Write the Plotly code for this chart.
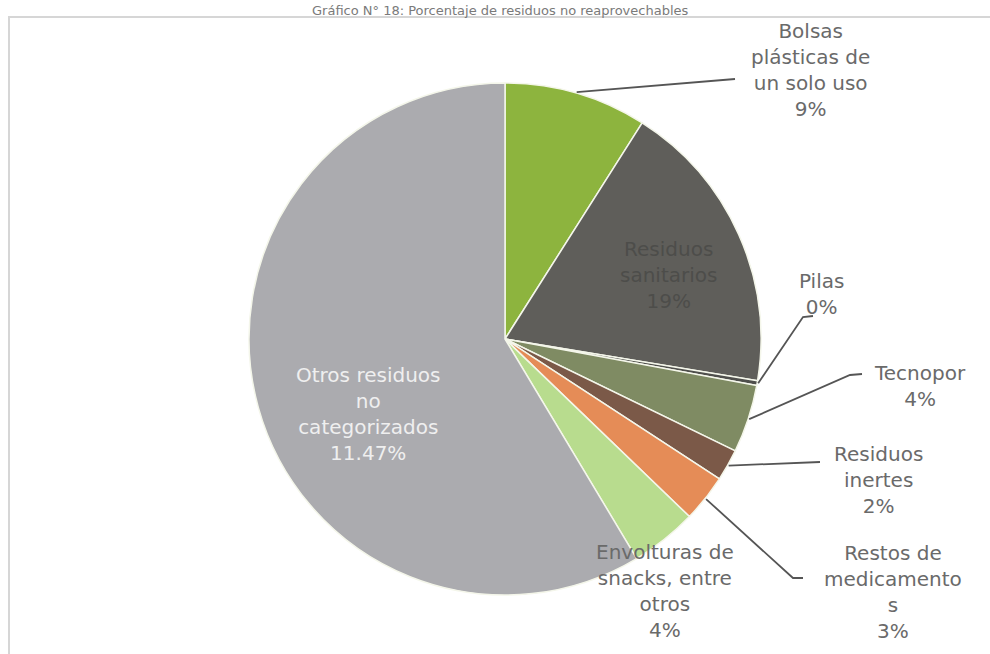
import math
import plotly.graph_objects as go

# ---- data ----
categories = [
    "Bolsas plásticas de un solo uso",
    "Residuos sanitarios",
    "Pilas",
    "Tecnopor",
    "Residuos inertes",
    "Restos de medicamentos",
    "Envolturas de snacks, entre otros",
    "Otros residuos no categorizados",
]
values = [9.0, 18.6, 0.3, 4.3, 2.0, 3.0, 4.2, 58.6]
label_texts = [
    "Bolsas<br>plásticas de<br>un solo uso<br>9%",
    "Residuos<br>sanitarios<br>19%",
    "Pilas<br>0%",
    "Tecnopor<br>4%",
    "Residuos<br>inertes<br>2%",
    "Restos de<br>medicamento<br>s<br>3%",
    "Envolturas de<br>snacks, entre<br>otros<br>4%",
    "Otros residuos<br>no<br>categorizados<br>11.47%",
]
colors = ["#8db43e", "#5f5e5a", "#4f4f4c", "#7f8b63", "#7b5948",
          "#e58c57", "#b8dc8e", "#ababaf"]
title = "Gráfico N° 18: Porcentaje de residuos no reaprovechables"

# ---- layout (pixels) ----
W, H = 990, 654
CX, CY, R = 505, 339, 256

def X(p):
    return p / W

def Y(p):
    return 1 - p / H

# label centre positions (pixel) and leader line waypoints (pixel)
label_pos = [(810, 70), (668, 275), (821, 294), (920, 386), (878, 480),
             (893, 592), (665, 591), (368, 414)]
label_colors = ["#6a6a6a", "#4d4d4a", "#6a6a6a", "#6a6a6a", "#6a6a6a",
                "#6a6a6a", "#6a6a6a", "#efefef"]
leader_pts = [
    [(735, 79)],
    None,
    [(803, 317), (813, 316)],
    [(850, 375), (862, 374)],
    [(820, 462)],
    [(793, 578), (803, 578)],
    None,
    None,
]

FONT = "DejaVu Sans"

fig = go.Figure(go.Pie(
    labels=categories,
    values=values,
    sort=False,
    direction="clockwise",
    rotation=0,
    textinfo="none",
    hoverinfo="label+percent",
    marker=dict(colors=colors, line=dict(color="#f4f6ea", width=1.5)),
    domain=dict(x=[X(CX - R), X(CX + R)], y=[Y(CY + R), Y(CY - R)]),
    showlegend=False,
))

total = sum(values)
annotations = []
shapes = []
cum = 0.0
for i, v in enumerate(values):
    mid = (cum + v / 2) / total * 2 * math.pi
    cum += v
    lx, ly = label_pos[i]
    annotations.append(dict(
        x=X(lx), y=Y(ly), xref="paper", yref="paper", text=label_texts[i],
        showarrow=False, xanchor="center", yanchor="middle", align="center",
        font=dict(family=FONT, size=20, color=label_colors[i]),
    ))
    if leader_pts[i]:
        ex = CX + (R + 1) * math.sin(mid)
        ey = CY - (R + 1) * math.cos(mid)
        pts = [(ex, ey)] + leader_pts[i]
        path = "M " + " L ".join(f"{X(a):.5f},{Y(b):.5f}" for a, b in pts)
        shapes.append(dict(type="path", xref="paper", yref="paper", path=path,
                           line=dict(color="#555555", width=1.8)))

# title
annotations.append(dict(
    x=X(500), y=Y(1), xref="paper", yref="paper", text=title, showarrow=False,
    xanchor="center", yanchor="top",
    font=dict(family=FONT, size=13, color="#7a7a7a"),
))

# chart border
shapes.append(dict(type="rect", xref="paper", yref="paper",
                   x0=X(9), x1=X(1000), y0=Y(17), y1=Y(670),
                   line=dict(color="#d6d6d6", width=2), layer="below"))

fig.update_layout(
    width=W, height=H,
    margin=dict(l=0, r=0, t=0, b=0),
    paper_bgcolor="white", plot_bgcolor="white",
    annotations=annotations, shapes=shapes,
)

fig.write_html("out.html")
